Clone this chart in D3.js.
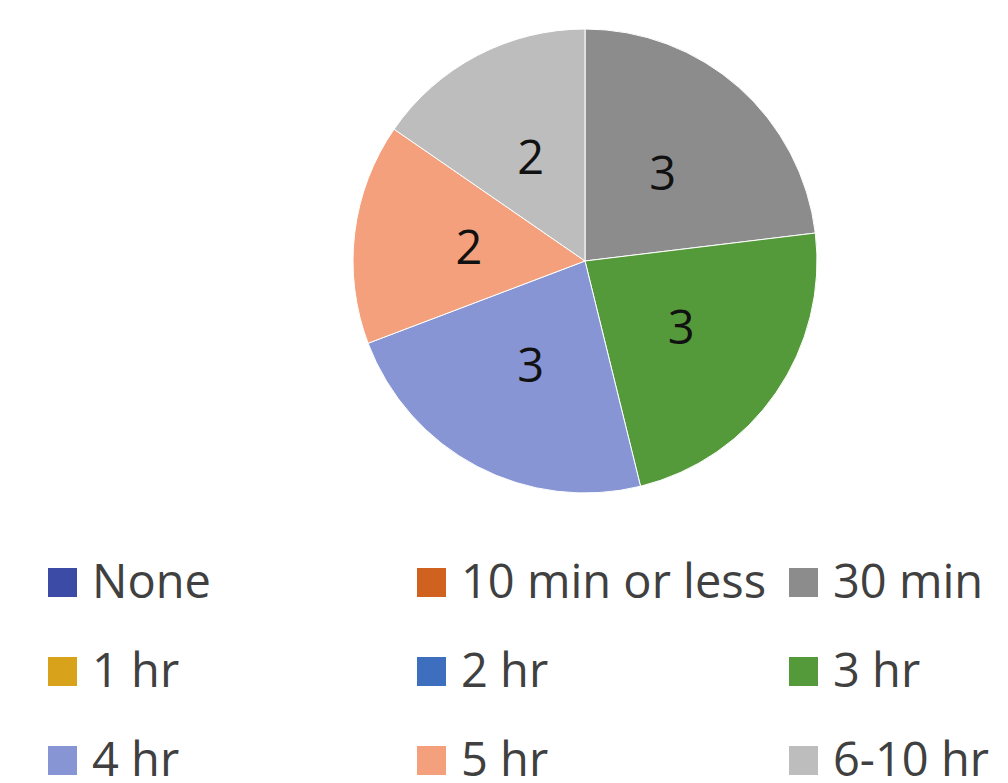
<!DOCTYPE html>
<html lang="en">
<head>
	<meta charset="utf-8">
	<title>Time spent</title>
	<script src="https://d3js.org/d3.v7.min.js" charset="utf-8"></script>
	<style>
		body { margin: 0; background: #fff; }
		text { font-family: "Open Sans", "Noto Sans", sans-serif; }
	</style>
</head>
<body>
	<script>

	// categories and counts, in legend order
	var categories = ["None", "10 min or less", "30 min", "1 hr", "2 hr", "3 hr", "4 hr", "5 hr", "6-10 hr"];
	var counts = [0, 0, 3, 0, 0, 3, 3, 2, 2];
	var colors = ["#3b4ba6", "#d0611f", "#8c8c8c", "#d8a31a", "#3e6fbf", "#559a3a", "#8795d5", "#f4a07c", "#bdbdbd"];

	var width = 1008,
		height = 783;

	var cx = 585, cy = 261,
		radius = 232,
		labelRadius = 117;

	var svg = d3.select("body")
		.append("svg")
		.attr("width", width)
		.attr("height", height);

	var data = categories.map(function(c, i) {
		return { name: c, value: counts[i], color: colors[i] };
	});

	var pie = d3.pie()
		.sort(null)
		.value(function(d) { return d.value; });

	var arc = d3.arc()
		.innerRadius(0)
		.outerRadius(radius);

	var labelArc = d3.arc()
		.innerRadius(labelRadius)
		.outerRadius(labelRadius);

	var arcs = pie(data).filter(function(d) { return d.data.value > 0; });

	var g = svg.append("g")
		.attr("transform", "translate(" + cx + "," + cy + ")");

	g.selectAll("path")
		.data(arcs)
		.enter().append("path")
		.attr("d", arc)
		.attr("fill", function(d) { return d.data.color; })
		.attr("stroke", "#fff")
		.attr("stroke-width", 1);

	g.selectAll("text")
		.data(arcs)
		.enter().append("text")
		.attr("transform", function(d) { return "translate(" + labelArc.centroid(d) + ")"; })
		.attr("text-anchor", "middle")
		.attr("dy", "0.36em")
		.attr("font-size", 47)
		.attr("fill", "#111")
		.text(function(d) { return d.data.value; });

	// legend, 3 columns
	var colX = [48, 417, 789],
		rowY = [598, 687, 776],
		box = 29;

	var item = svg.append("g")
		.selectAll("g")
		.data(data)
		.enter().append("g")
		.attr("transform", function(d, i) {
			return "translate(" + colX[i % 3] + "," + rowY[Math.floor(i / 3)] + ")";
		});

	item.append("rect")
		.attr("x", 0)
		.attr("y", -box - 1)
		.attr("width", box)
		.attr("height", box)
		.attr("fill", function(d) { return d.color; });

	item.append("text")
		.attr("x", box + 15)
		.attr("y", 0)
		.attr("font-size", 47)
		.attr("fill", "#404040")
		.text(function(d) { return d.name; });

	</script>
</body>
</html>
